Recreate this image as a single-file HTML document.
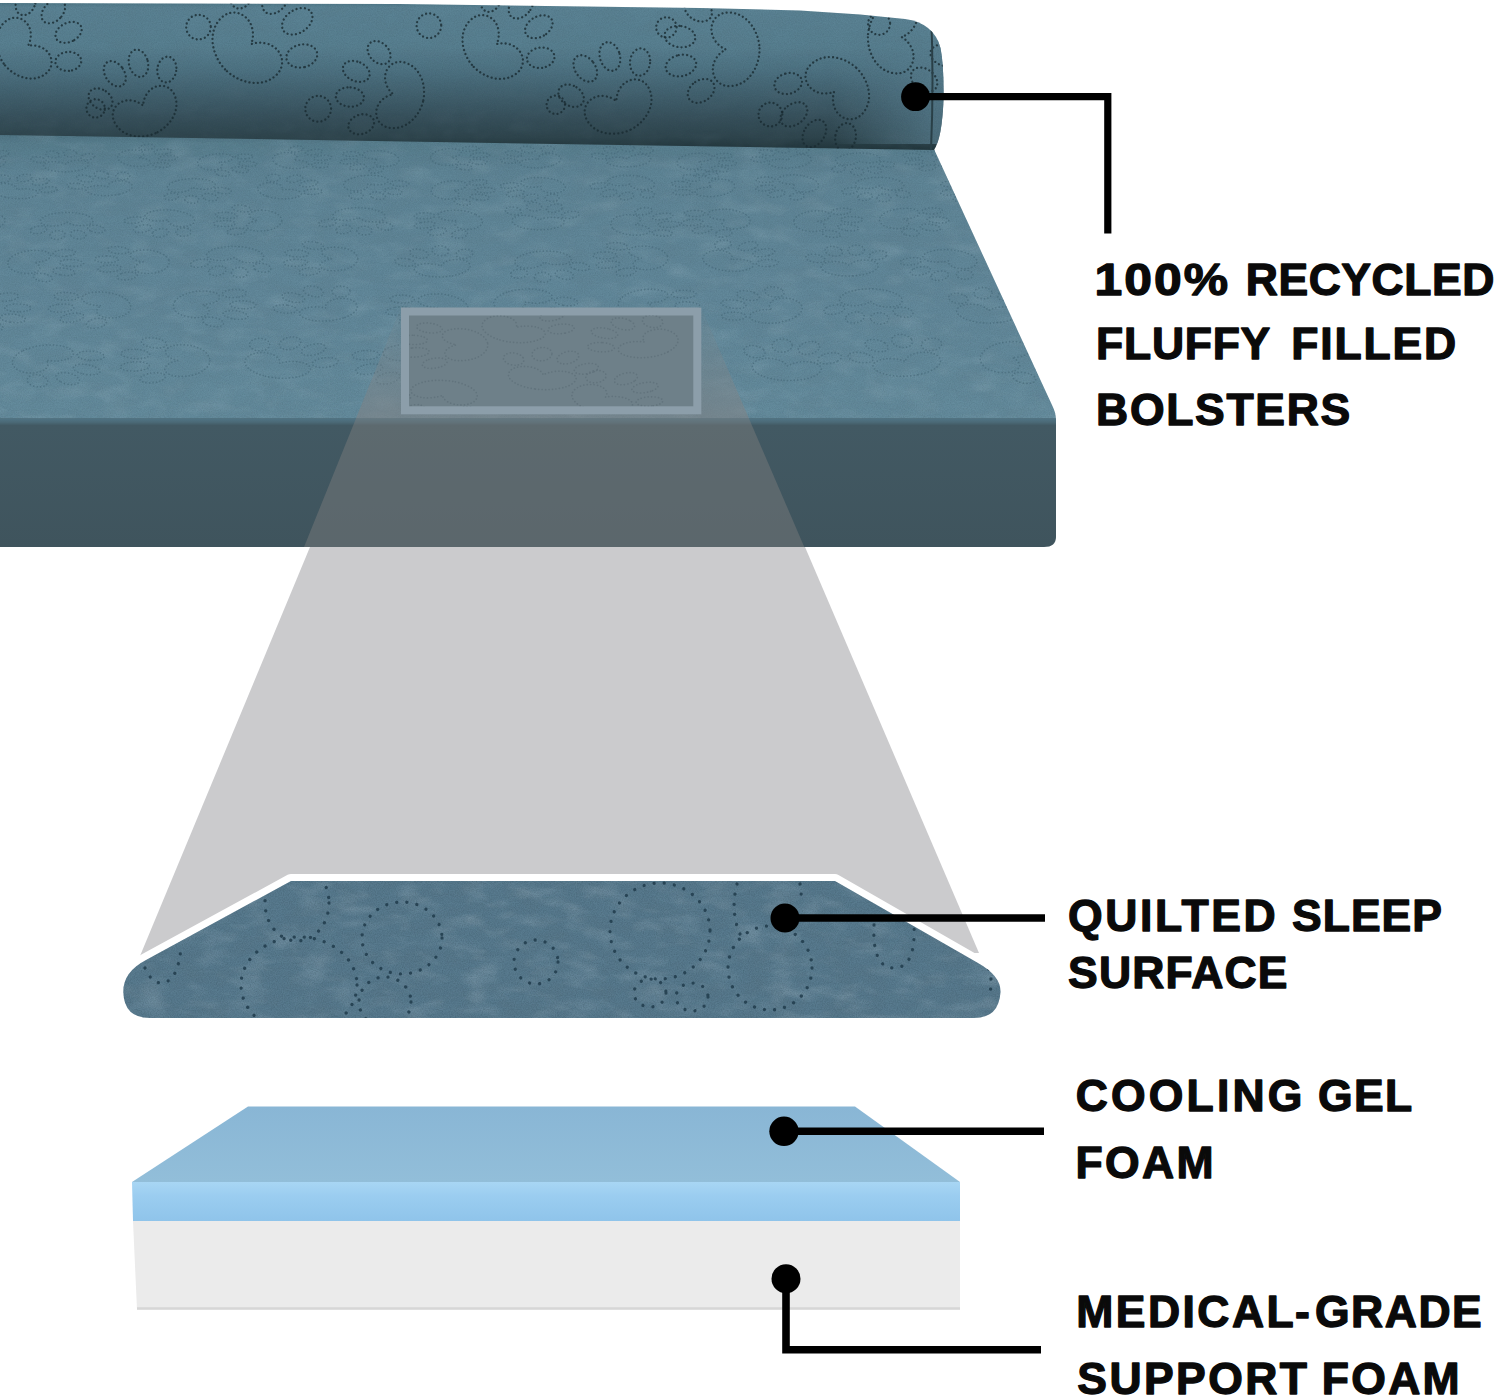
<!DOCTYPE html>
<html><head><meta charset="utf-8"><title>Bed layers</title>
<style>
html,body{margin:0;padding:0;background:#fff;}
body{width:1500px;height:1396px;overflow:hidden;}
svg{display:block;}
text{font-family:"Liberation Sans",sans-serif;font-weight:bold;fill:#0a0a0a;}
</style></head><body>
<svg width="1500" height="1396" viewBox="0 0 1500 1396">
<defs>
  <linearGradient id="gBol" x1="0" y1="3" x2="0" y2="149" gradientUnits="userSpaceOnUse">
    <stop offset="0" stop-color="#4f7888"/>
    <stop offset="0.03" stop-color="#5b8394"/>
    <stop offset="0.30" stop-color="#587f90"/>
    <stop offset="0.45" stop-color="#4e7383"/>
    <stop offset="0.60" stop-color="#436371"/>
    <stop offset="0.78" stop-color="#37505b"/>
    <stop offset="0.92" stop-color="#2e444c"/>
    <stop offset="1" stop-color="#22363c"/>
  </linearGradient>
  <linearGradient id="gTop" x1="0" y1="132" x2="0" y2="420" gradientUnits="userSpaceOnUse">
    <stop offset="0" stop-color="#4d7180"/>
    <stop offset="0.04" stop-color="#587e8e"/>
    <stop offset="0.15" stop-color="#5f8596"/>
    <stop offset="0.6" stop-color="#62889a"/>
    <stop offset="1" stop-color="#648b9c"/>
  </linearGradient>
  <linearGradient id="gFront" x1="0" y1="418" x2="0" y2="547" gradientUnits="userSpaceOnUse">
    <stop offset="0" stop-color="#3a525c"/>
    <stop offset="0.012" stop-color="#4f7282"/>
    <stop offset="0.035" stop-color="#4a6875"/>
    <stop offset="0.058" stop-color="#425963"/>
    <stop offset="1" stop-color="#3f545d"/>
  </linearGradient>
  <linearGradient id="gZoomTop" x1="0" y1="307" x2="0" y2="422" gradientUnits="userSpaceOnUse">
    <stop offset="0" stop-color="#808386" stop-opacity="0.04"/>
    <stop offset="1" stop-color="#808386" stop-opacity="0.62"/>
  </linearGradient>
  <linearGradient id="gFoamTop" x1="0" y1="0" x2="0" y2="1">
    <stop offset="0" stop-color="#89b6d5"/>
    <stop offset="1" stop-color="#92bed9"/>
  </linearGradient>
  <linearGradient id="gFoamFront" x1="0" y1="0" x2="0" y2="1">
    <stop offset="0" stop-color="#a8d6f4"/>
    <stop offset="0.35" stop-color="#9bcdf0"/>
    <stop offset="1" stop-color="#8fc4ea"/>
  </linearGradient>
  <linearGradient id="gBolR" x1="830" y1="0" x2="930" y2="0" gradientUnits="userSpaceOnUse">
    <stop offset="0" stop-color="#587e8f" stop-opacity="0"/>
    <stop offset="1" stop-color="#587e8f" stop-opacity="0.7"/>
  </linearGradient>
  <clipPath id="cBol"><path d="M0 3 L400 4 L700 8 L800 10.500 L860 14.500 L905 19 Q934 23 940.500 48 Q944 65 943.500 100 Q942 138 934 150 L0 135 Z"/></clipPath>
  <clipPath id="cTop"><path d="M0 132 L933 147 L1056 414 L1056 418.500 L0 418.500 Z"/></clipPath>
  <clipPath id="cFront"><path d="M0 418.500 H1056 V547 H0 Z"/></clipPath>
  <clipPath id="cRect"><rect x="409" y="315.500" width="284.300" height="90.800"/></clipPath>
  <clipPath id="cQuilt"><path d="M291 881 L835 881 L978 963 Q1001 976 1000.5 992 Q999 1018 974 1018 L150 1018 Q124 1018 123.3 992 Q123 972 146 960 Z"/></clipPath>
  <filter id="grain" x="0" y="0" width="100%" height="100%">
    <feTurbulence type="fractalNoise" baseFrequency="0.85" numOctaves="2" seed="4"/>
    <feColorMatrix type="matrix" values="0 0 0 0 0.02  0 0 0 0 0.05  0 0 0 0 0.07  0.9 0.9 0 0 -0.72"/>
  </filter>
  <filter id="blotch" x="0" y="0" width="100%" height="100%">
    <feTurbulence type="fractalNoise" baseFrequency="0.035 0.06" numOctaves="3" seed="11"/>
    <feColorMatrix type="matrix" values="0 0 0 0 0.10  0 0 0 0 0.16  0 0 0 0 0.20  1.6 1.6 0 0 -1.35"/>
  </filter>
  <filter id="blotchL" x="0" y="0" width="100%" height="100%">
    <feTurbulence type="fractalNoise" baseFrequency="0.03 0.07" numOctaves="3" seed="23"/>
    <feColorMatrix type="matrix" values="0 0 0 0 0.72  0 0 0 0 0.82  0 0 0 0 0.88  1.5 1.5 0 0 -1.35"/>
  </filter>
  <g id="paw">
    <path vector-effect="non-scaling-stroke" d="M0 42 C-16 42 -36 32 -38 13 C-40 -4 -23 -12 -10 -4 C-5 -1 -2 3 0 7 C2 3 5 -1 10 -4 C23 -12 40 -4 38 13 C36 32 16 42 0 42 Z"/>
    <ellipse vector-effect="non-scaling-stroke" cx="-42" cy="-20" rx="11" ry="15" transform="rotate(-32 -42 -20)"/>
    <ellipse vector-effect="non-scaling-stroke" cx="-15" cy="-40" rx="11" ry="16" transform="rotate(-10 -15 -40)"/>
    <ellipse vector-effect="non-scaling-stroke" cx="15" cy="-40" rx="11" ry="16" transform="rotate(10 15 -40)"/>
    <ellipse vector-effect="non-scaling-stroke" cx="42" cy="-20" rx="11" ry="15" transform="rotate(32 42 -20)"/>
  </g>
</defs>

<!-- BED -->
<g id="bed">
  <!-- top surface -->
  <path d="M0 132 L933 147 L1052 405 Q1056 413 1056 420 L0 420 Z" fill="url(#gTop)"/>
  <g clip-path="url(#cTop)">
    <rect x="0" y="130" width="1060" height="292" filter="url(#blotchL)" opacity="0.10"/>
    <rect x="0" y="130" width="1060" height="292" filter="url(#blotch)" opacity="0.10"/>
    <g fill="none" stroke="#46697a" stroke-opacity="0.6" stroke-width="1.700" stroke-linecap="round" stroke-dasharray="0.010 3.400">
      <use href="#paw" transform="translate(-18.7 160.5) scale(0.594 0.221) rotate(-16)"/>
      <use href="#paw" transform="translate(65.0 162.6) scale(0.594 0.221) rotate(-9)"/>
      <use href="#paw" transform="translate(142.7 157.4) scale(0.594 0.221) rotate(73)"/>
      <use href="#paw" transform="translate(222.6 162.9) scale(0.594 0.221) rotate(116)"/>
      <use href="#paw" transform="translate(297.6 159.3) scale(0.594 0.221) rotate(61)"/>
      <use href="#paw" transform="translate(374.0 159.8) scale(0.594 0.221) rotate(-120)"/>
      <use href="#paw" transform="translate(455.5 157.4) scale(0.594 0.221) rotate(97)"/>
      <use href="#paw" transform="translate(535.8 158.5) scale(0.594 0.221) rotate(-39)"/>
      <use href="#paw" transform="translate(626.5 157.5) scale(0.594 0.221) rotate(-18)"/>
      <use href="#paw" transform="translate(702.1 162.3) scale(0.594 0.221) rotate(115)"/>
      <use href="#paw" transform="translate(786.7 158.7) scale(0.594 0.221) rotate(-30)"/>
      <use href="#paw" transform="translate(859.7 162.3) scale(0.594 0.221) rotate(165)"/>
      <use href="#paw" transform="translate(936.9 158.1) scale(0.594 0.221) rotate(-96)"/>
      <use href="#paw" transform="translate(19.0 188.3) scale(0.638 0.245) rotate(32)"/>
      <use href="#paw" transform="translate(105.6 185.3) scale(0.638 0.245) rotate(-29)"/>
      <use href="#paw" transform="translate(193.4 188.9) scale(0.638 0.245) rotate(163)"/>
      <use href="#paw" transform="translate(284.5 188.5) scale(0.638 0.245) rotate(42)"/>
      <use href="#paw" transform="translate(370.4 185.6) scale(0.638 0.245) rotate(144)"/>
      <use href="#paw" transform="translate(458.1 190.8) scale(0.638 0.245) rotate(107)"/>
      <use href="#paw" transform="translate(538.4 187.8) scale(0.638 0.245) rotate(-143)"/>
      <use href="#paw" transform="translate(628.2 185.6) scale(0.638 0.245) rotate(-156)"/>
      <use href="#paw" transform="translate(707.8 186.3) scale(0.638 0.245) rotate(-58)"/>
      <use href="#paw" transform="translate(791.6 185.2) scale(0.638 0.245) rotate(-126)"/>
      <use href="#paw" transform="translate(878.5 187.6) scale(0.638 0.245) rotate(-171)"/>
      <use href="#paw" transform="translate(976.5 189.2) scale(0.638 0.245) rotate(-127)"/>
      <use href="#paw" transform="translate(-24.1 220.5) scale(0.690 0.274) rotate(-49)"/>
      <use href="#paw" transform="translate(66.9 223.9) scale(0.690 0.274) rotate(178)"/>
      <use href="#paw" transform="translate(165.7 221.4) scale(0.690 0.274) rotate(-149)"/>
      <use href="#paw" transform="translate(252.8 220.4) scale(0.690 0.274) rotate(-85)"/>
      <use href="#paw" transform="translate(358.0 219.2) scale(0.690 0.274) rotate(-172)"/>
      <use href="#paw" transform="translate(453.1 221.7) scale(0.690 0.274) rotate(-127)"/>
      <use href="#paw" transform="translate(539.5 218.3) scale(0.690 0.274) rotate(10)"/>
      <use href="#paw" transform="translate(639.8 224.0) scale(0.690 0.274) rotate(71)"/>
      <use href="#paw" transform="translate(721.1 220.6) scale(0.690 0.274) rotate(-120)"/>
      <use href="#paw" transform="translate(822.7 221.7) scale(0.690 0.274) rotate(100)"/>
      <use href="#paw" transform="translate(908.5 219.6) scale(0.690 0.274) rotate(112)"/>
      <use href="#paw" transform="translate(39.4 263.1) scale(0.751 0.310) rotate(110)"/>
      <use href="#paw" transform="translate(137.8 262.2) scale(0.751 0.310) rotate(-98)"/>
      <use href="#paw" transform="translate(233.7 259.4) scale(0.751 0.310) rotate(-170)"/>
      <use href="#paw" transform="translate(326.2 258.8) scale(0.751 0.310) rotate(-87)"/>
      <use href="#paw" transform="translate(439.5 263.9) scale(0.751 0.310) rotate(-19)"/>
      <use href="#paw" transform="translate(545.3 264.1) scale(0.751 0.310) rotate(164)"/>
      <use href="#paw" transform="translate(636.3 258.3) scale(0.751 0.310) rotate(-98)"/>
      <use href="#paw" transform="translate(734.6 258.2) scale(0.751 0.310) rotate(45)"/>
      <use href="#paw" transform="translate(848.6 263.0) scale(0.751 0.310) rotate(-7)"/>
      <use href="#paw" transform="translate(945.5 262.7) scale(0.751 0.310) rotate(-149)"/>
      <use href="#paw" transform="translate(-16.8 310.2) scale(0.823 0.356) rotate(102)"/>
      <use href="#paw" transform="translate(96.1 306.7) scale(0.823 0.356) rotate(-116)"/>
      <use href="#paw" transform="translate(208.0 305.5) scale(0.823 0.356) rotate(108)"/>
      <use href="#paw" transform="translate(322.7 306.0) scale(0.823 0.356) rotate(-36)"/>
      <use href="#paw" transform="translate(433.4 308.7) scale(0.823 0.356) rotate(-119)"/>
      <use href="#paw" transform="translate(528.3 304.0) scale(0.823 0.356) rotate(146)"/>
      <use href="#paw" transform="translate(652.9 304.0) scale(0.823 0.356) rotate(118)"/>
      <use href="#paw" transform="translate(767.4 308.2) scale(0.823 0.356) rotate(-54)"/>
      <use href="#paw" transform="translate(870.1 303.8) scale(0.823 0.356) rotate(-175)"/>
      <use href="#paw" transform="translate(989.5 308.1) scale(0.823 0.356) rotate(10)"/>
      <use href="#paw" transform="translate(51.0 362.5) scale(0.911 0.416) rotate(134)"/>
      <use href="#paw" transform="translate(171.6 360.5) scale(0.911 0.416) rotate(-89)"/>
      <use href="#paw" transform="translate(283.0 360.7) scale(0.911 0.416) rotate(31)"/>
      <use href="#paw" transform="translate(405.2 362.3) scale(0.911 0.416) rotate(-133)"/>
      <use href="#paw" transform="translate(542.4 361.8) scale(0.911 0.416) rotate(-15)"/>
      <use href="#paw" transform="translate(658.3 366.8) scale(0.911 0.416) rotate(-29)"/>
      <use href="#paw" transform="translate(788.6 363.1) scale(0.911 0.416) rotate(11)"/>
      <use href="#paw" transform="translate(903.0 358.7) scale(0.911 0.416) rotate(-22)"/>
      <use href="#paw" transform="translate(1018.5 358.6) scale(0.911 0.416) rotate(108)"/>
    </g>
    <rect x="0" y="130" width="1060" height="292" filter="url(#grain)" opacity="0.2"/>
  </g>
  <!-- front face -->
  <path d="M0 418.500 H1056 V537 Q1056 547 1044 547 H0 Z" fill="url(#gFront)"/>
  <!-- bolster -->
  <path d="M0 3 L400 4 L700 8 L800 10.500 L860 14.500 L905 19 Q934 23 940.500 48 Q944 65 943.500 100 Q942 138 934 150 L0 135 Z" fill="url(#gBol)"/>
  <g clip-path="url(#cBol)">
    <rect x="830" y="40" width="120" height="104" fill="url(#gBolR)"/>
    <rect x="0" y="0" width="950" height="150" filter="url(#blotch)" opacity="0.12"/>
    <g fill="none" stroke="#192a31" stroke-opacity="0.8" stroke-width="2.300" stroke-linecap="round" stroke-dasharray="0.010 4.200">
      <use href="#paw" transform="translate(33.0 42.2) scale(0.864 0.864) rotate(54)"/>
      <circle cx="95.6" cy="108.4" r="9.2"/>
      <use href="#paw" transform="translate(140.7 100.1) scale(0.864 0.864) rotate(-24)"/>
      <circle cx="198.5" cy="27.1" r="12.3"/>
      <use href="#paw" transform="translate(256.5 39.0) scale(1.040 1.040) rotate(46)"/>
      <circle cx="318.2" cy="108.8" r="12.9"/>
      <use href="#paw" transform="translate(387.2 92.7) scale(0.879 0.879) rotate(-76)"/>
      <circle cx="428.9" cy="25.7" r="12.3"/>
      <use href="#paw" transform="translate(501.6 39.9) scale(0.924 0.924) rotate(50)"/>
      <circle cx="555.8" cy="104.8" r="9.2"/>
      <use href="#paw" transform="translate(613.6 95.3) scale(0.913 0.913) rotate(-26)"/>
      <circle cx="666.4" cy="27.4" r="10.2"/>
      <use href="#paw" transform="translate(719.0 49.7) scale(0.965 0.965) rotate(-92)"/>
      <circle cx="770.4" cy="114.5" r="11.9"/>
      <use href="#paw" transform="translate(829.6 96.6) scale(0.934 0.934) rotate(-137)"/>
      <circle cx="879.1" cy="23.8" r="11.0"/>
      <use href="#paw" transform="translate(908.4 37.6) scale(0.965 0.965) rotate(95)"/>
      <circle cx="966.0" cy="107.8" r="11.8"/>
    </g>
    <path d="M931 12 Q934 80 931 150" stroke="#2a4048" stroke-width="2" fill="none"/>
    <rect x="0" y="0" width="950" height="150" filter="url(#grain)" opacity="0.2"/>
  </g>
</g>

<!-- zoom trapezoid -->
<g id="zoom">
  <g clip-path="url(#cTop)"><path d="M401 307 H701 L979 953 H140 Z" fill="url(#gZoomTop)"/></g>
  <g clip-path="url(#cFront)"><path d="M401 307 H701 L979 953 H140 Z" fill="#7f7e7f" fill-opacity="0.45"/></g>
  <path d="M310 547 H805 L979 953 L140 956 Z" fill="#cbcbcd"/>
  <rect x="405" y="311.500" width="292.300" height="98.800" fill="#6e8089" stroke="#8c9eaa" stroke-width="8"/>
  <g clip-path="url(#cRect)" fill="none" stroke="#5c6e77" stroke-opacity="0.7" stroke-width="1.700" stroke-linecap="round" stroke-dasharray="0.010 3.400">
    <use href="#paw" transform="translate(450.0 345.0) scale(0.900 0.420) rotate(-94)"/>
    <use href="#paw" transform="translate(545.0 372.0) scale(0.900 0.420) rotate(16)"/>
    <use href="#paw" transform="translate(640.0 340.0) scale(0.900 0.420) rotate(-47)"/>
    <use href="#paw" transform="translate(520.0 325.0) scale(0.900 0.420) rotate(37)"/>
    <use href="#paw" transform="translate(610.0 395.0) scale(0.900 0.420) rotate(45)"/>
    <use href="#paw" transform="translate(440.0 398.0) scale(0.900 0.420) rotate(-156)"/>
  </g>
</g>

<!-- quilted piece -->
<g id="quilt">
  <path d="M291 881 L835 881 L978 963 Q1001 976 1000.5 992 Q999 1018 974 1018 L150 1018 Q124 1018 123.3 992 Q123 972 146 960 Z" fill="#587a8e" stroke="#fff" stroke-width="14" stroke-linejoin="round" paint-order="stroke"/>
  <g clip-path="url(#cQuilt)">
    <rect x="120" y="878" width="885" height="142" filter="url(#blotch)" opacity="0.18"/>
    <rect x="120" y="878" width="885" height="142" filter="url(#blotchL)" opacity="0.16"/>
    <g fill="none" stroke="#243f50" stroke-opacity="0.9" stroke-width="3.300" stroke-linecap="round" stroke-dasharray="0.010 10.200">
      <ellipse cx="299" cy="985" rx="58" ry="48"/>
      <ellipse cx="297" cy="903" rx="32" ry="38"/>
      <ellipse cx="402" cy="938" rx="40" ry="36"/>
      <ellipse cx="385" cy="1002" rx="26" ry="25"/>
      <path d="M145 968 Q152 984 163 983 Q178 980 181 948"/>
      <circle cx="536" cy="962" r="22"/>
      <ellipse cx="660" cy="931" rx="50" ry="48"/>
      <ellipse cx="770" cy="968" rx="42" ry="42"/>
      <path d="M737 884 Q729 915 743 940"/>
      <path d="M800 884 Q803 893 799 902"/>
      <ellipse cx="650" cy="993" rx="16" ry="14"/>
      <ellipse cx="692" cy="997" rx="16" ry="14"/>
      <path d="M874 925 Q872 968 894 968 Q916 968 914 925"/>
      <path d="M984 960 Q994 975 990 992"/>
    </g>
    <rect x="120" y="878" width="885" height="142" filter="url(#grain)" opacity="0.35"/>
  </g>
</g>
<rect x="100" y="1019" width="930" height="12" fill="#fff"/>

<!-- foam -->
<g id="foam">
  <path d="M248 1106.500 H855 L960 1182 H132 Z" fill="url(#gFoamTop)"/>
  <path d="M132 1182 H960 V1221 H133 Z" fill="url(#gFoamFront)"/>
  <path d="M133 1221 H960 V1309.500 H137 Z" fill="#ebebeb"/>
  <path d="M137 1308.500 H960" stroke="#d6d6d6" stroke-width="2.500"/>
</g>

<!-- callouts -->
<g id="callouts" fill="none" stroke="#000" stroke-width="7.600">
  <path d="M915 96.700 H1107.800 V233.400" stroke-width="7.200"/>
  <path d="M785 918 H1045"/>
  <path d="M784 1131.300 H1044"/>
  <path d="M786 1278.700 V1349.700 H1041"/>
</g>
<g fill="#000">
  <circle cx="915.500" cy="96.700" r="14.400"/>
  <circle cx="785" cy="918" r="14.500"/>
  <circle cx="784" cy="1131.300" r="14.700"/>
  <circle cx="786" cy="1278.700" r="14.500"/>
</g>

<!-- labels -->
<g id="labels" font-size="44.500" stroke="#0a0a0a" stroke-width="1.300" stroke-linejoin="round">
  <text transform="translate(1094.5 294.8) scale(1.12 1)" x="0" y="0" letter-spacing="1.84">100%</text>
  <text x="1245.7" y="294.8" letter-spacing="0.56">RECYCLED</text>
  <text x="1096.1" y="359.3" letter-spacing="0.72">FLUFFY</text>
  <text x="1291.2" y="359.3" letter-spacing="1.86">FILLED</text>
  <text x="1096.1" y="425.3" letter-spacing="1.69">BOLSTERS</text>
  <text x="1068.1" y="931.3" letter-spacing="2.58">QUILTED</text>
  <text x="1292.0" y="931.3" letter-spacing="1.02">SLEEP</text>
  <text x="1068.1" y="988.0" letter-spacing="1.13">SURFACE</text>
  <text x="1075.8" y="1111.2" letter-spacing="3.15">COOLING</text>
  <text x="1318.0" y="1111.2" letter-spacing="1.35">GEL</text>
  <text x="1075.4" y="1177.5" letter-spacing="2.43">FOAM</text>
  <text x="1076.3" y="1326.8" letter-spacing="2.45">MEDICAL</text>
  <text x="1295.0" y="1326.8" letter-spacing="0.00">-</text>
  <text x="1315.0" y="1326.8" letter-spacing="1.50">GRADE</text>
  <text x="1077.3" y="1393.6" letter-spacing="2.42">SUPPORT</text>
  <text x="1321.7" y="1393.6" letter-spacing="2.33">FOAM</text>
</g>
</svg>
</body></html>
